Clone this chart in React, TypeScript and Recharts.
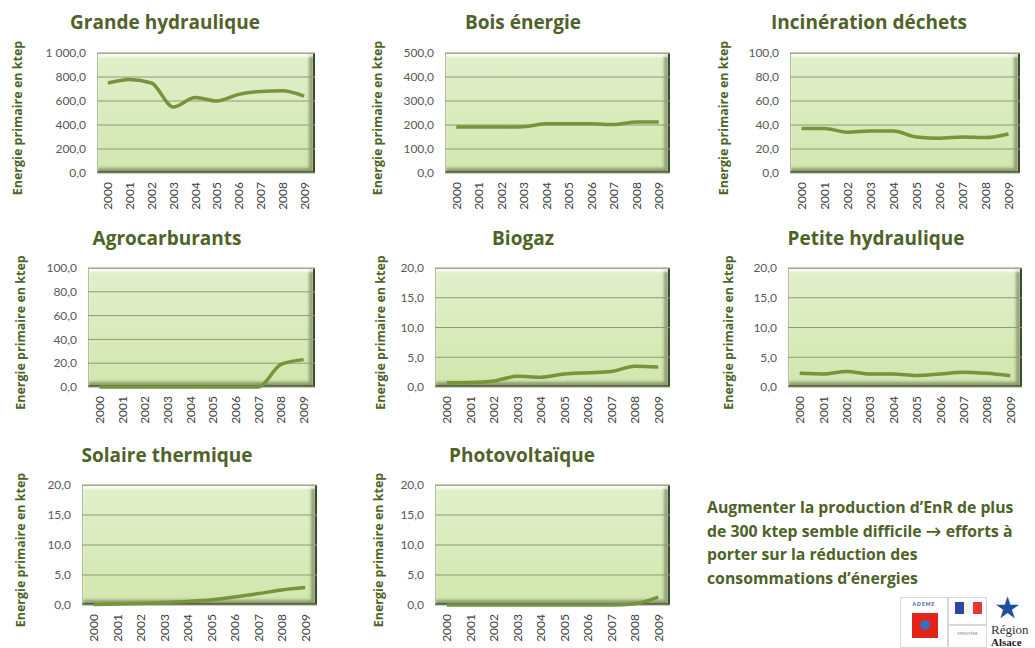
import { LineChart, Line, XAxis, YAxis, CartesianGrid } from "recharts";

const years = ["2000", "2001", "2002", "2003", "2004", "2005", "2006", "2007", "2008", "2009"];

// ktep
const grandeHydraulique = [750, 780, 750, 550, 630, 600, 655, 680, 685, 640];
const boisEnergie = [192, 192, 192, 193, 205, 205, 205, 202, 213, 213];
const incinerationDechets = [37, 37, 34, 35, 35, 30, 29, 30, 29.5, 32.5];
const agrocarburants = [0, 0, 0, 0, 0, 0, 0, 0, 19, 23];
const biogaz = [0.7, 0.75, 1.0, 1.8, 1.65, 2.2, 2.4, 2.6, 3.5, 3.35];
const petiteHydraulique = [2.3, 2.2, 2.6, 2.2, 2.2, 1.95, 2.2, 2.5, 2.3, 1.9];
const solaireThermique = [0.1, 0.15, 0.25, 0.4, 0.6, 0.85, 1.35, 1.9, 2.5, 2.9];
const photovoltaique = [0, 0, 0, 0, 0, 0, 0, 0, 0.2, 1.3];

const ticks1000 = [0, 200, 400, 600, 800, 1000];
const ticks500 = [0, 100, 200, 300, 400, 500];
const ticks100 = [0, 20, 40, 60, 80, 100];
const ticks20 = [0, 5, 10, 15, 20];

const yLabel = "Energie primaire en ktep";
const note = [
  "Augmenter la production d’EnR de plus",
  "de 300 ktep semble difficile → efforts à",
  "porter sur la réduction des",
  "consommations d’énergies",
];

const OLIVE = "#4f6228";
const LINE = "#77933c";
const FONT = "Lato, 'Open Sans', sans-serif";
const BOLD = "'Open Sans', Lato, sans-serif";

interface PanelProps {
  title: string;
  values: number[];
  ticks: number[];
  plotX: number;
  plotY: number;
  plotW: number;
  plotH: number;
  titleX: number;
  titleY: number;
  labelDist: number;
}

const fmt = (v: number) => {
  const s = v.toFixed(1).replace(".", ",");
  return v >= 1000 ? s.replace(/^(\d)(\d{3})/, "$1 $2") : s;
};

function YearTick({ x, y, payload }: any) {
  return (
    <text
      x={x}
      y={y}
      transform={`rotate(-90 ${x} ${y})`}
      textAnchor="end"
      dominantBaseline="central"
      fill="#404040"
      fontSize={12}
      fontFamily={FONT}
    >
      {payload.value}
    </text>
  );
}

function Panel({ title, values, ticks, plotX, plotY, plotW, plotH, titleX, titleY, labelDist }: PanelProps) {
  const data = years.map((year, i) => ({ year, value: values[i] }));
  const yw = labelDist + 14;
  const top = 12;
  const pad = plotW / 20;
  const lx = yw - labelDist;
  const ly = top + plotH / 2 + 5;
  return (
    <>
      <div
        style={{
          position: "absolute",
          left: titleX - 160,
          top: titleY - 13,
          width: 320,
          textAlign: "center",
          fontFamily: BOLD,
          fontWeight: 700,
          fontSize: 19,
          lineHeight: "26px",
          color: OLIVE,
        }}
      >
        {title}
      </div>
      <div
        style={{
          position: "absolute",
          left: plotX,
          top: plotY,
          width: plotW,
          height: plotH,
          boxSizing: "border-box",
          background: "linear-gradient(to bottom, #e2f0cb, #d2e6ae)",
          border: "1px solid #b3bea2",
          borderRight: "2px solid #3e4a2c",
          borderBottom: "2px solid #55623d",
          boxShadow:
            "inset 0 3px 2px rgba(255,255,255,0.75), inset -4px -3px 3px rgba(70,85,45,0.5)",
        }}
      />
      <div style={{ position: "absolute", left: plotX - yw, top: plotY - top }}>
        <LineChart
          width={yw + plotW + 8}
          height={top + plotH + 48}
          data={data}
          margin={{ top, right: 8, left: 0, bottom: 8 }}
        >
          <CartesianGrid vertical={false} stroke="#8c9a7c" />
          <XAxis
            dataKey="year"
            interval={0}
            height={40}
            padding={{ left: pad, right: pad }}
            axisLine={false}
            tickLine={false}
            tickSize={0}
            tickMargin={9}
            tick={<YearTick />}
          />
          <YAxis
            width={yw}
            domain={[0, ticks[ticks.length - 1]]}
            ticks={ticks}
            interval={0}
            axisLine={false}
            tickLine={false}
            tickSize={0}
            tickMargin={11}
            tickFormatter={fmt}
            tick={{ fill: "#595959", fontSize: 12, fontFamily: FONT }}
            label={() => (
              <text
                x={lx}
                y={ly}
                transform={`rotate(-90 ${lx} ${ly})`}
                textAnchor="middle"
                dominantBaseline="central"
                fill={OLIVE}
                fontSize={12.5}
                fontWeight={700}
                fontFamily={BOLD}
              >
                {yLabel}
              </text>
            )}
          />
          <Line
            type="monotone"
            dataKey="value"
            stroke={LINE}
            strokeWidth={3.5}
            dot={false}
            activeDot={false}
            isAnimationActive={false}
          />
        </LineChart>
      </div>
    </>
  );
}

function Logos() {
  const box = { position: "absolute" as const, background: "#fff", border: "1px solid #d8d8d8", boxSizing: "border-box" as const };
  return (
    <>
      <div style={{ ...box, left: 900, top: 597, width: 48, height: 51 }}>
        <div style={{ fontSize: 5, fontWeight: 700, color: "#2a4c9b", textAlign: "center", marginTop: 3, fontFamily: FONT, letterSpacing: 1 }}>
          ADEME
        </div>
        <div style={{ position: "absolute", left: 11, top: 15, width: 26, height: 25, background: "#e2231a" }}>
          <div style={{ position: "absolute", left: 8, top: 7, width: 10, height: 10, borderRadius: 5, background: "#3a6fb8" }} />
        </div>
      </div>
      <div style={{ ...box, left: 948, top: 597, width: 39, height: 28 }}>
        <div style={{ position: "absolute", left: 6, top: 4, width: 9, height: 12, background: "#2b4a9c" }} />
        <div style={{ position: "absolute", left: 15, top: 4, width: 9, height: 12, background: "#f4f4f4" }} />
        <div style={{ position: "absolute", left: 24, top: 4, width: 9, height: 12, background: "#e03c31" }} />
      </div>
      <div style={{ ...box, left: 948, top: 625, width: 39, height: 23 }}>
        <div style={{ fontSize: 4, color: "#888", textAlign: "center", marginTop: 5, fontFamily: FONT }}>
          MINISTÈRE
        </div>
      </div>
      <div style={{ position: "absolute", left: 994, top: 591, fontSize: 30, color: "#1f4e9c", lineHeight: "30px" }}>★</div>
      <div style={{ position: "absolute", left: 991, top: 623, fontSize: 13, fontFamily: "'Liberation Serif', serif", color: "#333", lineHeight: "13px" }}>
        Région
      </div>
      <div style={{ position: "absolute", left: 991, top: 637, fontSize: 11, fontWeight: 700, fontFamily: "'Liberation Serif', serif", color: "#222", lineHeight: "10px" }}>
        Alsace
      </div>
    </>
  );
}

export default function App() {
  return (
    <div
      style={{
        position: "absolute",
        left: 0,
        top: 0,
        width: 1035,
        height: 648,
        overflow: "hidden",
        background: "#fff",
        fontFamily: FONT,
      }}
    >
      <Panel title="Grande hydraulique" values={grandeHydraulique} ticks={ticks1000} plotX={97} plotY={53} plotW={218} plotH={120} titleX={165} titleY={22} labelDist={80} />
      <Panel title="Bois énergie" values={boisEnergie} ticks={ticks500} plotX={445} plotY={53} plotW={225} plotH={120} titleX={523} titleY={22} labelDist={68} />
      <Panel title="Incinération déchets" values={incinerationDechets} ticks={ticks100} plotX={790} plotY={53} plotW={230} plotH={120} titleX={869} titleY={22} labelDist={67} />
      <Panel title="Agrocarburants" values={agrocarburants} ticks={ticks100} plotX={88} plotY={268} plotW={227} plotH={119} titleX={167} titleY={238} labelDist={68} />
      <Panel title="Biogaz" values={biogaz} ticks={ticks20} plotX={435} plotY={268} plotW={235} plotH={119} titleX={523} titleY={238} labelDist={55} />
      <Panel title="Petite hydraulique" values={petiteHydraulique} ticks={ticks20} plotX={788} plotY={268} plotW={234} plotH={119} titleX={876} titleY={238} labelDist={60} />
      <Panel title="Solaire thermique" values={solaireThermique} ticks={ticks20} plotX={82} plotY={485} plotW={235} plotH={120} titleX={167} titleY={455} labelDist={62} />
      <Panel title="Photovoltaïque" values={photovoltaique} ticks={ticks20} plotX={435} plotY={485} plotW={235} plotH={120} titleX={522} titleY={455} labelDist={57} />
      <div
        style={{
          position: "absolute",
          left: 707,
          top: 496,
          width: 328,
          fontFamily: BOLD,
          fontWeight: 700,
          fontSize: 15.8,
          lineHeight: "23.5px",
          color: OLIVE,
          whiteSpace: "nowrap",
        }}
      >
        {note.map((l) => (
          <div key={l}>{l}</div>
        ))}
      </div>
      <Logos />
    </div>
  );
}
